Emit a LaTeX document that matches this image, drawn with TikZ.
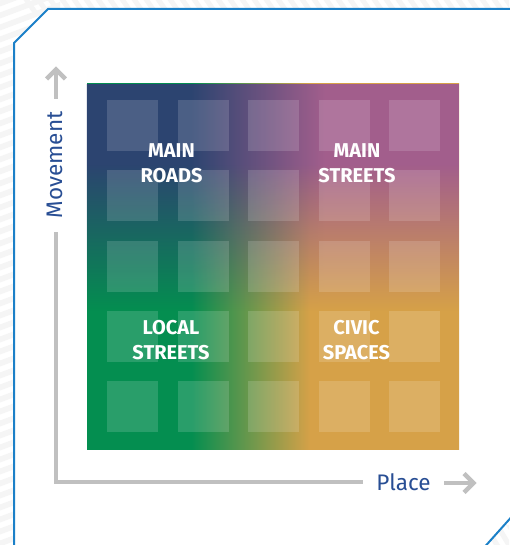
\documentclass[tikz,border=0pt]{standalone}
\usepackage{fontspec}
\setmainfont{Fira Sans}
\usetikzlibrary{fadings}

\definecolor{cNavy}{RGB}{44,68,112}
\definecolor{cPurple}{RGB}{162,94,140}
\definecolor{cGreen}{RGB}{4,142,80}
\definecolor{cOrange}{RGB}{214,161,72}
\definecolor{frameblue}{RGB}{27,128,200}
\definecolor{axisgray}{RGB}{192,192,192}
\definecolor{axisblue}{RGB}{40,78,148}
\definecolor{stripegray}{RGB}{245,245,245}

% colour bands for the upper and lower halves of the matrix
\pgfdeclarehorizontalshading{toprow}{100bp}{color(0bp)=(cNavy); color(39bp)=(cNavy); color(57bp)=(cPurple); color(100bp)=(cPurple)}
\pgfdeclarehorizontalshading{bottomrow}{100bp}{color(0bp)=(cGreen); color(39bp)=(cGreen); color(55bp)=(cOrange); color(100bp)=(cOrange)}
% upper band is opaque at the top and vanishes towards the middle
\pgfdeclareverticalshading{uppermask}{100bp}{color(0bp)=(black); color(44bp)=(black); color(64bp)=(white); color(100bp)=(white)}
\pgfdeclarefading{upperfade}{\pgfuseshading{uppermask}}

\tikzset{
  tile/.style={fill=white, fill opacity=0.15},
  quadlabel/.style={text=white, align=center, inner sep=0pt,
    font=\fontsize{20}{25}\selectfont\bfseries},
  axisline/.style={draw=axisgray, line width=4.5pt},
  axishead/.style={draw=axisgray, line width=4.5pt, miter limit=10},
  axislabel/.style={text=axisblue, inner sep=0pt, font=\fontsize{22.5}{27}\selectfont},
  frameline/.style={draw=frameblue, line width=2pt},
}

\begin{document}
\begin{tikzpicture}[x=1pt, y=-1pt]
\useasboundingbox (0,0) rectangle (509,545);
\fill[white] (0,0) rectangle (509,545);

% faint stripes outside the frame
\begin{scope}
  \clip (0,0) -- (509,0) -- (509,8) -- (48,8) -- (13,43) -- (13,545) -- (0,545) -- cycle;
  \foreach \k in {0,...,60}
    \fill[stripegray] (-20,{-40+12*\k}) -- (60,{-70+12*\k}) -- (60,{-64+12*\k}) -- (-20,{-34+12*\k}) -- cycle;
  \foreach \k in {0,...,45}
    \fill[stripegray] ({20+12*\k},-5) -- ({26+12*\k},-5) -- ({38+12*\k},12) -- ({32+12*\k},12) -- cycle;
\end{scope}
\begin{scope}
  \clip (486,545) -- (509,519) -- (509,545) -- cycle;
  \foreach \k in {0,...,5}
    \fill[stripegray] ({470+12*\k},525) -- ({476+12*\k},525) -- ({488+12*\k},545) -- ({482+12*\k},545) -- cycle;
\end{scope}

% outer frame with cut corners
\draw[frameline] (14,550) -- (14,43) -- (48,9) -- (515,9);
\draw[frameline] (481,551) -- (515,513);

% colour matrix
\coordinate (mTL) at (87,84);
\coordinate (mBR) at (459,449);
\shade[shading=bottomrow] (mTL) rectangle (mBR);
\shade[shading=toprow, path fading=upperfade] (mTL) rectangle (mBR);

% translucent tiles
\foreach \i in {0,...,4}
  \foreach \j in {0,...,4}
    \fill[tile] ({107+70.5*\i},{100+70.3*\j}) rectangle ++(51,51);

% quadrant labels
\node[quadlabel] (roads)   at (171.5,163) {MAIN\\ROADS};
\node[quadlabel] (streets) at (357,163)   {MAIN\\STREETS};
\node[quadlabel] (local)   at (171,340)   {LOCAL\\STREETS};
\node[quadlabel] (civic)   at (356.5,340) {CIVIC\\SPACES};

% axes
\coordinate (origin) at (56,482);
\coordinate (vtop) at (56,232);
\coordinate (hend) at (363,482);
\coordinate (vshaft0) at (56,99);
\coordinate (vtip) at (56,69.5);
\coordinate (hshaft0) at (444,483);
\coordinate (htip) at (473.5,483);

\draw[axisline] (vtop) -- (origin) -- (hend);

\node[axislabel, rotate=90, anchor=base] (movement) at (62,165) {Movement};
\node[axislabel, anchor=base] (place) at (403.5,490.5) {Place};

\draw[axisline] (vshaft0) -- (vtip);
\draw[axishead] (46.5,79) -- (vtip) -- (65.5,79);
\draw[axisline] (hshaft0) -- (htip);
\draw[axishead] (464,473.5) -- (htip) -- (464,492.5);
\end{tikzpicture}
\end{document}
